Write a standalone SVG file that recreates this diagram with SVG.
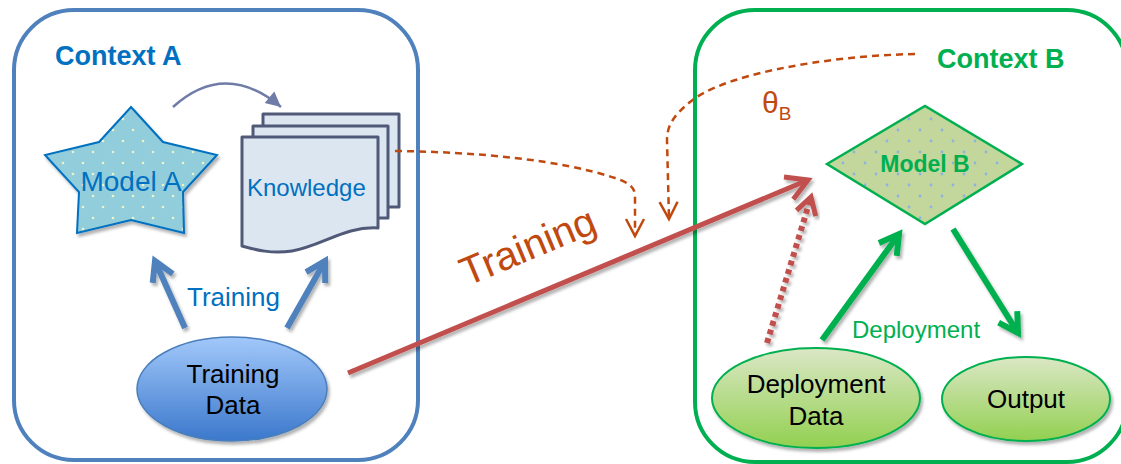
<svg xmlns="http://www.w3.org/2000/svg" width="1121" height="464" viewBox="0 0 1121 464">
  <style>
    text { font-family: "Liberation Sans", Arial, sans-serif; }
    .ctx { fill: none; stroke-width: 4; }
    .title { font-size: 27px; font-weight: bold; }
    .blue-txt { fill: #0070c0; }
    .green-txt { fill: #00b050; }
    .rust-txt { fill: #c0490f; }
    .dark-txt { fill: #000; font-size: 26px; text-anchor: middle; }
    .page { fill: #dce6f0; stroke: #505a78; stroke-width: 3; stroke-linejoin: round; }
    .arrow-blue { stroke: #4f81bd; stroke-width: 6; fill: none; }
    .arrow-green { stroke: #00b050; stroke-width: 6; fill: none; }
    .arrow-red { stroke: #c0504d; stroke-width: 5; fill: none; }
    .arrow-red-dot { stroke: #c0504d; stroke-width: 6; fill: none; stroke-dasharray: 5 4; }
    .dash-rust { stroke: #c0490f; stroke-width: 2.5; fill: none; stroke-dasharray: 7 5; }
  </style>
  <defs>
    <filter id="shadow" x="-20%" y="-20%" width="140%" height="140%">
      <feDropShadow dx="2" dy="3" stdDeviation="1.5" flood-color="#000" flood-opacity="0.3"/>
    </filter>
    <pattern id="dotsTeal" width="20" height="22" patternUnits="userSpaceOnUse">
      <rect width="20" height="22" fill="#92cddc"/>
      <circle cx="3" cy="9" r="1.3" fill="#eef3c6"/>
      <circle cx="13" cy="20" r="1.3" fill="#eef3c6"/>
    </pattern>
    <pattern id="dotsOlive" width="22" height="22" patternUnits="userSpaceOnUse">
      <rect width="22" height="22" fill="#c3d69b"/>
      <circle cx="7" cy="9" r="1.4" fill="#8db3e2"/>
      <circle cx="18" cy="20" r="1.4" fill="#8db3e2"/>
    </pattern>
    <linearGradient id="gradBlue" x1="0" y1="0" x2="0" y2="1">
      <stop offset="0" stop-color="#a2c8fa"/>
      <stop offset="1" stop-color="#3b78cc"/>
    </linearGradient>
    <linearGradient id="gradGreen" x1="0" y1="0" x2="0" y2="1">
      <stop offset="0" stop-color="#dbe7c6"/>
      <stop offset="1" stop-color="#92d050"/>
    </linearGradient>
    <marker id="chevBlue" markerUnits="userSpaceOnUse" viewBox="-26 -15 30 30" markerWidth="30" markerHeight="30" refX="0" refY="0" orient="auto" overflow="visible">
      <path d="M-19,-11 L0,0 L-19,11" fill="none" stroke="#4f81bd" stroke-width="6"/>
    </marker>
    <marker id="chevGreen" markerUnits="userSpaceOnUse" viewBox="-26 -15 30 30" markerWidth="30" markerHeight="30" refX="0" refY="0" orient="auto" overflow="visible">
      <path d="M-19,-11 L0,0 L-19,11" fill="none" stroke="#00b050" stroke-width="6"/>
    </marker>
    <marker id="chevRed" markerUnits="userSpaceOnUse" viewBox="-26 -15 30 30" markerWidth="30" markerHeight="30" refX="0" refY="0" orient="auto" overflow="visible">
      <path d="M-21,-12 L0,0 L-21,12" fill="none" stroke="#c0504d" stroke-width="5"/>
    </marker>
    <marker id="chevRedDot" markerUnits="userSpaceOnUse" viewBox="-26 -15 30 30" markerWidth="30" markerHeight="30" refX="0" refY="0" orient="auto" overflow="visible">
      <path d="M-17,-10 L0,0 L-17,10" fill="none" stroke="#c0504d" stroke-width="5"/>
    </marker>
    <marker id="vRust" markerUnits="userSpaceOnUse" viewBox="-20 -12 24 24" markerWidth="24" markerHeight="24" refX="0" refY="0" orient="auto" overflow="visible">
      <path d="M-17,-9 L0,0 L-17,9" fill="none" stroke="#c0490f" stroke-width="2.5"/>
    </marker>
    <marker id="triSlate" markerUnits="userSpaceOnUse" viewBox="-16 -9 18 18" markerWidth="18" markerHeight="18" refX="0" refY="0" orient="auto" overflow="visible">
      <path d="M-15,-7.5 L0,0 L-15,7.5 Z" fill="#6f7ca8"/>
    </marker>
  </defs>

  <!-- context frames -->
  <g id="context-a">
    <rect class="ctx" x="14" y="10" width="404" height="450" rx="60" stroke="#4f81bd"/>
    <text class="title blue-txt" x="55" y="65">Context A</text>
  </g>
  <g id="context-b">
    <rect class="ctx" x="695" y="10" width="432" height="452" rx="60" stroke="#00b050"/>
    <text class="title green-txt" x="937" y="68">Context B</text>
  </g>

  <!-- star-shaped source model -->
  <g id="model-a">
    <path d="M131,107 L163,142 L217,155 L183,192 L184,233 L131,220 L77,233 L79,192 L45,155 L99,142 Z" fill="url(#dotsTeal)" stroke="#0070c0" stroke-width="2" filter="url(#shadow)"/>
    <text class="blue-txt" x="131" y="191" font-size="28" text-anchor="middle">Model A</text>
  </g>

  <!-- stacked document pages -->
  <g id="knowledge">
    <rect class="page" x="263" y="114" width="136" height="93"/>
    <rect class="page" x="253" y="126" width="135" height="92"/>
    <path class="page" d="M242,137 H378 V228 C345,226 322,246 292,251 C272,254 256,250 242,246 Z"/>
    <text class="blue-txt" x="247" y="196" font-size="24">Knowledge</text>
  </g>

  <g id="training-data">
    <ellipse cx="232" cy="389" rx="95" ry="52" fill="url(#gradBlue)" stroke="#4a7ebb" stroke-width="1.5" filter="url(#shadow)"/>
    <text class="dark-txt" x="233" y="383">Training</text>
    <text class="dark-txt" x="233" y="414">Data</text>
  </g>

  <g id="model-b">
    <path d="M827,164 L925,106 L1022,164 L925,224 Z" fill="url(#dotsOlive)" stroke="#00b050" stroke-width="2.5"/>
    <text class="green-txt" x="925" y="172" font-size="23" font-weight="bold" text-anchor="middle">Model B</text>
  </g>

  <g id="deployment-data">
    <ellipse cx="816" cy="398" rx="104" ry="50" fill="url(#gradGreen)" stroke="#00b050" stroke-width="2" filter="url(#shadow)"/>
    <text class="dark-txt" x="816" y="393">Deployment</text>
    <text class="dark-txt" x="816" y="425">Data</text>
  </g>

  <g id="output">
    <ellipse cx="1026" cy="399" rx="84" ry="42" fill="url(#gradGreen)" stroke="#00b050" stroke-width="2" filter="url(#shadow)"/>
    <text class="dark-txt" x="1026" y="408">Output</text>
  </g>

  <!-- connectors -->
  <g id="connectors">
    <path d="M173,107 Q225,60 281,107" fill="none" stroke="#6f7ca8" stroke-width="2.5" marker-end="url(#triSlate)"/>

    <path class="arrow-blue" d="M185,328 L155,261" marker-end="url(#chevBlue)" filter="url(#shadow)"/>
    <path class="arrow-blue" d="M287,328 L325,261" marker-end="url(#chevBlue)" filter="url(#shadow)"/>

    <path class="arrow-red" d="M348,373 L808,180" marker-end="url(#chevRed)" filter="url(#shadow)"/>
    <path class="arrow-red-dot" d="M767,343 L811,197" marker-end="url(#chevRedDot)" filter="url(#shadow)"/>

    <path class="arrow-green" d="M822,340 L899,234" marker-end="url(#chevGreen)" filter="url(#shadow)"/>
    <path class="arrow-green" d="M953,229 L1018,333" marker-end="url(#chevGreen)" filter="url(#shadow)"/>

    <path class="dash-rust" d="M395,151 C480,152 560,160 615,178 C630,183 635,188 635,196 L635,236" marker-end="url(#vRust)"/>
    <path class="dash-rust" d="M915,54 C820,56 720,76 690,102 C673,116 667,126 667,140 L669,219" marker-end="url(#vRust)"/>
  </g>

  <!-- connector labels -->
  <g id="labels">
    <text class="blue-txt" x="187" y="306" font-size="26">Training</text>
    <text class="rust-txt" x="533" y="259" font-size="40" text-anchor="middle" transform="rotate(-22.7 533 259)">Training</text>
    <text class="rust-txt" x="762" y="113" font-size="30">θ<tspan font-size="19" dy="7">B</tspan></text>
    <text class="green-txt" x="852" y="338" font-size="24">Deployment</text>
  </g>
</svg>
